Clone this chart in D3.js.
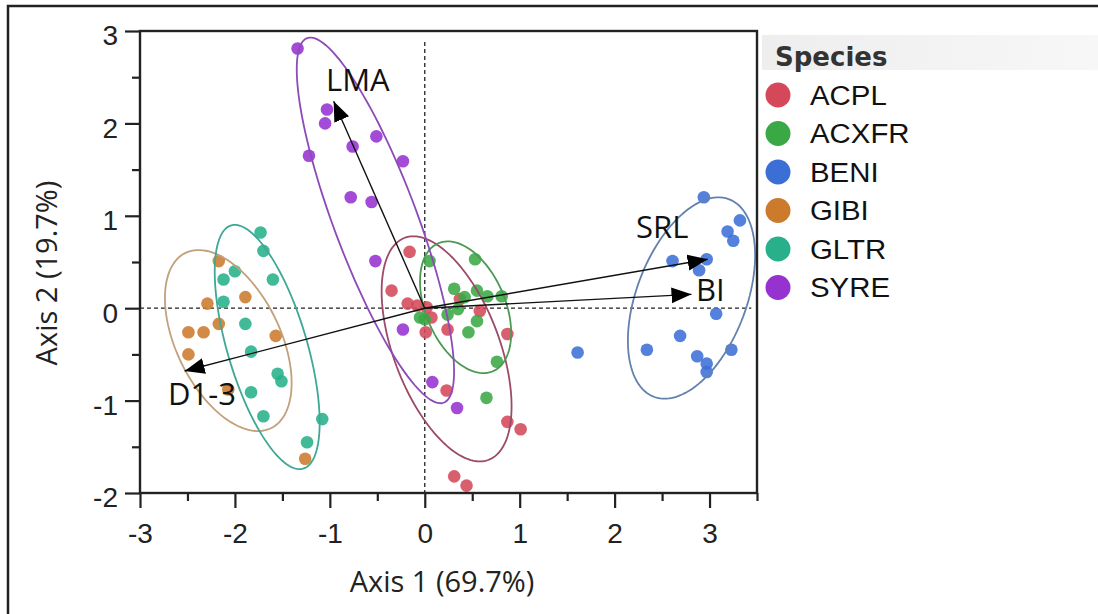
<!DOCTYPE html>
<html>
<head>
<meta charset="utf-8">
<script src="https://cdn.jsdelivr.net/npm/d3@7"></script>
<style>
  html, body { margin: 0; padding: 0; background: #fff; }
  svg { display: block; }
</style>
</head>
<body>
<div id="chart"></div>
<script>
"use strict";

// species and their scores (Axis 1, Axis 2)
var species = ["ACPL", "ACXFR", "BENI", "GIBI", "GLTR", "SYRE"];

var acplPts = [[-0.16, 0.61], [-0.35, 0.19], [-0.18, 0.05], [-0.08, 0.03], [0.07, -0.10], [0.01, -0.26],
	[0.24, -0.23], [0.37, 0.10], [0.58, -0.03], [0.87, -0.28], [0.23, -0.89], [0.87, -1.23],
	[1.01, -1.31], [0.31, -1.82], [0.44, -1.92], [0.02, 0.01]];
var acxfrPts = [[0.05, 0.51], [0.53, 0.53], [0.31, 0.21], [0.55, 0.19], [0.66, 0.13], [0.81, 0.13],
	[0.35, -0.01], [0.24, -0.07], [-0.05, -0.10], [0.55, -0.14], [0.46, -0.26], [0.76, -0.58],
	[0.65, -0.97], [0.00, -0.12], [0.42, 0.12]];
var beniPts = [[2.94, 1.20], [3.32, 0.95], [3.19, 0.83], [3.25, 0.73], [2.61, 0.51], [2.89, 0.41],
	[2.97, 0.53], [3.07, -0.06], [2.69, -0.30], [2.34, -0.45], [1.61, -0.48], [3.23, -0.45],
	[2.87, -0.52], [2.97, -0.60], [2.97, -0.69]];
var gibiPts = [[-2.17, 0.51], [-2.29, 0.05], [-1.89, 0.12], [-2.17, -0.17], [-2.49, -0.26], [-2.33, -0.26],
	[-1.57, -0.30], [-2.49, -0.50], [-2.07, -0.88], [-1.26, -1.63]];
var gltrPts = [[-1.73, 0.82], [-1.70, 0.62], [-2.00, 0.40], [-2.12, 0.31], [-1.60, 0.31], [-2.12, 0.07],
	[-1.89, -0.17], [-1.83, -0.47], [-1.55, -0.71], [-1.51, -0.79], [-1.83, -0.91], [-1.70, -1.17],
	[-1.08, -1.20], [-1.24, -1.45]];
var syrePts = [[-1.34, 2.81], [-1.03, 2.15], [-1.05, 2.00], [-0.51, 1.86], [-0.76, 1.75], [-1.22, 1.65],
	[-0.23, 1.59], [-0.78, 1.20], [-0.56, 1.15], [-0.52, 0.51], [-0.23, -0.23], [0.08, -0.80],
	[0.34, -1.08]];

var speciesPts = [acplPts, acxfrPts, beniPts, gibiPts, gltrPts, syrePts];

// confidence ellipses: centre x, centre y, semi-major, semi-minor, angle (deg)
var ellipseCx = [0.23, 0.43, 2.81, -2.07, -1.66, -0.52];
var ellipseCy = [-0.44, 0.01, 0.11, -0.35, -0.42, 0.95];
var ellipseA = [1.28, 0.75, 1.14, 1.05, 1.37, 2.10];
var ellipseB = [0.56, 0.42, 0.58, 0.55, 0.42, 0.44];
var ellipseAngle = [110, 112, 70, 115, 106, 110];

// trait vectors
var traitNames = ["LMA", "SRL", "BI", "D1-3"];
var traitX = [-0.96, 2.98, 2.81, -2.53];
var traitY = [2.24, 0.53, 0.15, -0.68];

var xTicks = [-3, -2, -1, 0, 1, 2, 3];
var yTicks = [-2, -1, 0, 1, 2, 3];

var fillColor = ["#d4485a", "#3aa845", "#3b6fd6", "#cc7b2c", "#27b08a", "#9632d0"];
var lineColor = ["#9c4a68", "#4c9a52", "#6381ad", "#c2a07c", "#3da896", "#8d4ab8"];

var W = 1098, H = 614;
var sansFont = "'Liberation Sans', Arial, sans-serif";
var segoeFont = "'Open Sans', 'DejaVu Sans', sans-serif";

var svg = d3.select("#chart").append("svg")
	.attr("width", W)
	.attr("height", H);

var defs = svg.append("defs");

defs.append("clipPath").attr("id", "plotClip")
	.append("rect")
	.attr("x", 140).attr("y", 31)
	.attr("width", 617).attr("height", 462);

defs.append("marker")
	.attr("id", "head")
	.attr("markerUnits", "userSpaceOnUse")
	.attr("viewBox", "0 -9 20 18")
	.attr("refX", 20).attr("refY", 0)
	.attr("markerWidth", 20).attr("markerHeight", 18)
	.attr("orient", "auto")
	.append("path")
	.attr("d", "M0,-8L20,0L0,8Z")
	.style("fill", "#000");

var grad = defs.append("linearGradient").attr("id", "band");
grad.append("stop").attr("offset", "0%").attr("stop-color", "#eeeeee");
grad.append("stop").attr("offset", "100%").attr("stop-color", "#f7f7f7");

// outer frame (top and left edges only)
svg.append("path")
	.attr("d", "M8," + H + "L8,6L" + W + ",6")
	.style("fill", "none")
	.style("stroke", "#222")
	.style("stroke-width", 2.5);

var x = d3.scaleLinear().domain([-3, 3.5]).range([140, 757]);
var y = d3.scaleLinear().domain([-2, 3]).range([493, 31]);

// dashed zero lines
svg.append("line")
	.attr("x1", x(0)).attr("x2", x(0))
	.attr("y1", y(2.88)).attr("y2", y(-2))
	.style("stroke", "#222").style("stroke-width", 1.3)
	.style("stroke-dasharray", "4,3");
svg.append("line")
	.attr("x1", x(-3)).attr("x2", x(3.44))
	.attr("y1", y(0)).attr("y2", y(0))
	.style("stroke", "#222").style("stroke-width", 1.3)
	.style("stroke-dasharray", "4,3");

var plot = svg.append("g").attr("clip-path", "url(#plotClip)");

// points
species.forEach(function (sp, i) {
	plot.append("g")
		.selectAll("circle")
		.data(speciesPts[i])
		.enter().append("circle")
		.attr("cx", d => x(d[0]))
		.attr("cy", d => y(d[1]))
		.attr("r", 6.3)
		.style("fill", fillColor[i])
		.style("opacity", 0.88);
});

// ellipses
var ellLine = d3.line()
	.x(d => x(d[0]))
	.y(d => y(d[1]))
	.curve(d3.curveLinearClosed);

species.forEach(function (sp, i) {
	var th = ellipseAngle[i] * Math.PI / 180;
	var pts = d3.range(0, 120).map(function (k) {
		var t = k / 120 * 2 * Math.PI;
		var ex = ellipseA[i] * Math.cos(t), ey = ellipseB[i] * Math.sin(t);
		return [ellipseCx[i] + ex * Math.cos(th) - ey * Math.sin(th),
			ellipseCy[i] + ex * Math.sin(th) + ey * Math.cos(th)];
	});
	plot.append("path")
		.attr("d", ellLine(pts))
		.style("fill", "none")
		.style("stroke", lineColor[i])
		.style("stroke-width", 1.8);
});

// trait arrows
traitNames.forEach(function (t, i) {
	svg.append("line")
		.attr("x1", x(0)).attr("y1", y(0))
		.attr("x2", x(traitX[i])).attr("y2", y(traitY[i]))
		.style("stroke", "#111")
		.style("stroke-width", 1.4)
		.attr("marker-end", "url(#head)");
});

var traitLabelPos = [[326, 91], [636, 238], [696, 301], [168, 405]];
svg.selectAll(".traitLabel")
	.data(traitNames)
	.enter().append("text")
	.attr("class", "traitLabel")
	.attr("x", (d, i) => traitLabelPos[i][0])
	.attr("y", (d, i) => traitLabelPos[i][1])
	.style("font-family", segoeFont)
	.style("font-size", "31px")
	.style("fill", "#111")
	.text(d => d);

// axes
var xAxis = svg.append("g")
	.attr("transform", "translate(0,493)")
	.call(d3.axisBottom(x)
		.tickValues(d3.range(-3, 3.51, 0.5))
		.tickSize(15)
		.tickSizeOuter(0)
		.tickFormat(d => xTicks.indexOf(d) >= 0 ? String(d) : ""));

var yAxis = svg.append("g")
	.attr("transform", "translate(140,0)")
	.call(d3.axisLeft(y)
		.tickValues(d3.range(-2, 3.01, 0.5))
		.tickSize(15)
		.tickSizeOuter(0)
		.tickFormat(d => yTicks.indexOf(d) >= 0 ? String(d) : ""));

[xAxis, yAxis].forEach(function (ax) {
	ax.select(".domain").remove();
	ax.selectAll(".tick line")
		.style("stroke", "#222")
		.style("stroke-width", 2.2);
	ax.selectAll(".tick text")
		.style("font-family", sansFont)
		.style("font-size", "28px")
		.style("fill", "#222");
});

xAxis.selectAll(".tick line").filter(d => !Number.isInteger(d)).attr("y2", 8);
yAxis.selectAll(".tick line").filter(d => !Number.isInteger(d)).attr("x2", -8);
xAxis.selectAll(".tick text").attr("y", 30);
yAxis.selectAll(".tick text").attr("x", -22).attr("y", 5);

// plot frame
svg.append("rect")
	.attr("x", 140).attr("y", 31)
	.attr("width", 617).attr("height", 462)
	.style("fill", "none")
	.style("stroke", "#222")
	.style("stroke-width", 2.4);

// axis titles
svg.append("text")
	.attr("x", 442).attr("y", 592)
	.attr("text-anchor", "middle")
	.style("font-family", segoeFont)
	.style("font-size", "29px")
	.style("fill", "#222")
	.text("Axis 1 (69.7%)");

svg.append("text")
	.attr("transform", "translate(57,273) rotate(-90)")
	.attr("text-anchor", "middle")
	.style("font-family", segoeFont)
	.style("font-size", "29px")
	.style("fill", "#222")
	.text("Axis 2 (19.7%)");

// legend
svg.append("rect")
	.attr("x", 762).attr("y", 35)
	.attr("width", W - 762).attr("height", 35)
	.style("fill", "url(#band)");

svg.append("text")
	.attr("x", 775).attr("y", 66)
	.style("font-family", "'DejaVu Sans', sans-serif")
	.style("font-weight", "bold")
	.style("font-size", "26px")
	.style("fill", "#333")
	.text("Species");

var legend = svg.selectAll(".legendItem")
	.data(species)
	.enter().append("g")
	.attr("class", "legendItem")
	.attr("transform", (d, i) => "translate(0," + (95 + i * 38.5) + ")");

legend.append("circle")
	.attr("cx", 778).attr("cy", 0)
	.attr("r", 12.5)
	.style("fill", (d, i) => fillColor[i]);

legend.append("text")
	.attr("transform", "translate(810,0) scale(1.05,1)")
	.attr("dy", "0.35em")
	.style("font-family", sansFont)
	.style("font-size", "28px")
	.style("fill", "#111")
	.text(d => d);
</script>
</body>
</html>
